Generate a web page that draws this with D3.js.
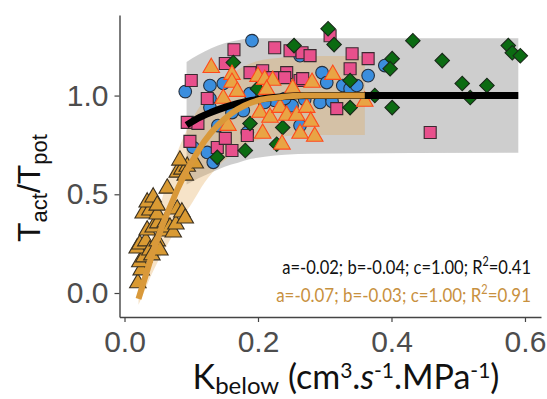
<!DOCTYPE html>
<html><head><meta charset="utf-8">
<script src="https://cdn.jsdelivr.net/npm/d3@7"></script>
<style>body{margin:0;background:#fff}</style>
</head><body>
<svg id="c" width="547" height="399"></svg>
<script>
// ---------- data ----------
const xTicks = [0, 0.2, 0.4, 0.6];
const yTicks = [0, 0.5, 1.0];

// blue circles
const circleK = [0.191,0.091,0.128,0.128,0.148,0.188,0.128,0.103,0.124,0.133,0.184,0.178,0.263,0.296,0.303,0.327,0.338,0.348,0.365,0.390,0.251,0.263,0.293,0.311,0.225,0.240,0.270,0.210,0.161,0.140];
const circleY = [1.278,1.020,1.051,0.985,1.061,1.010,0.939,0.737,0.712,0.662,0.813,0.924,1.202,1.116,1.066,1.051,1.035,1.051,1.101,1.152,0.949,0.848,0.965,0.970,0.975,0.985,0.980,0.965,0.914,0.848];

// pink squares
const squareK = [0.164,0.225,0.248,0.266,0.278,0.308,0.341,0.365,0.338,0.151,0.100,0.207,0.222,0.243,0.240,0.263,0.267,0.094,0.110,0.098,0.139,0.161,0.151,0.318,0.458,0.124,0.184,0.188];
const squareY = [1.232,1.242,1.227,1.217,1.202,1.303,1.212,1.187,1.136,1.162,1.076,1.126,1.091,1.116,1.091,1.076,1.086,0.864,0.859,0.768,0.737,0.722,0.783,0.934,0.813,0.985,0.798,1.116];

// green diamonds
const diamondK = [0.305,0.314,0.432,0.401,0.398,0.476,0.506,0.543,0.518,0.575,0.581,0.593,0.338,0.375,0.401,0.338,0.163,0.199,0.237,0.181,0.228,0.254,0.188,0.139];
const diamondY = [1.338,1.258,1.278,1.187,1.136,1.177,1.061,1.051,0.990,1.253,1.217,1.202,1.076,1.000,0.939,0.939,1.167,1.035,0.838,0.722,0.753,1.253,0.859,0.687];

// orange triangles, red outline (high K group)
const triHiK = [0.130,0.161,0.161,0.169,0.148,0.200,0.210,0.222,0.213,0.252,0.281,0.312,0.155,0.203,0.218,0.233,0.243,0.258,0.273,0.279,0.207,0.236,0.263,0.285,0.360];
const triHiY = [1.141,1.106,1.066,1.020,0.985,1.096,1.081,1.076,1.030,1.035,1.066,1.106,0.848,0.914,0.889,0.939,0.899,0.899,0.939,0.869,0.808,0.753,0.808,0.793,0.970];

// orange triangles, dark outline (low K group)
const triLoK = [0.020,0.025,0.023,0.029,0.019,0.023,0.032,0.038,0.041,0.049,0.053,0.034,0.043,0.050,0.058,0.061,0.068,0.073,0.077,0.028,0.038,0.049,0.034,0.043,0.049,0.079,0.086,0.091,0.064,0.079,0.086,0.094,0.091,0.106,0.083];
const triLoY = [0.051,0.116,0.157,0.182,0.227,0.247,0.263,0.217,0.192,0.263,0.217,0.318,0.333,0.354,0.313,0.359,0.333,0.308,0.348,0.404,0.419,0.399,0.460,0.485,0.444,0.424,0.409,0.379,0.530,0.611,0.626,0.641,0.596,0.657,0.672];

// fitted curve, all data (black) and its band
const fitAllK  = [0.093,0.11,0.13,0.15,0.17,0.19,0.21,0.24,0.28,0.59];
const fitAllY  = [0.85,0.885,0.915,0.94,0.96,0.975,0.985,0.995,1.0,1.0];
const bandAllLo = [0.55,0.58,0.61,0.64,0.66,0.68,0.69,0.70,0.705,0.71];
const bandAllHi = [1.17,1.205,1.24,1.265,1.28,1.29,1.29,1.29,1.29,1.29];

// fitted curve, triangles (orange) and its band
const fitTriK  = [0.021,0.03,0.04,0.05,0.06,0.07,0.08,0.09,0.10,0.12,0.14,0.16,0.18,0.20,0.23,0.27,0.36];
const fitTriY  = [-0.03,0.07,0.18,0.28,0.37,0.45,0.53,0.60,0.66,0.77,0.85,0.91,0.95,0.975,0.99,1.0,1.0];
const bandTriLo = [-0.06,0.01,0.09,0.16,0.22,0.28,0.34,0.40,0.45,0.56,0.64,0.70,0.75,0.775,0.79,0.80,0.80];
const bandTriHi = [0.00,0.13,0.27,0.40,0.52,0.62,0.72,0.80,0.87,0.98,1.06,1.11,1.15,1.175,1.19,1.20,1.20];

const annotAll = ["a=-0.02; b=-0.04; c=1.00; R", "=0.41"];
const annotTri = ["a=-0.07; b=-0.03; c=1.00; R", "=0.91"];

// ---------- drawing ----------
const svg = d3.select("#c");
const x = d3.scaleLinear().domain([-0.0075, 0.624]).range([119.5, 541]);
const y = d3.scaleLinear().domain([-0.1215, 1.408]).range([317, 15]);

function band(K, lo, hi){ return K.map((k,i)=>({k, lo:lo[i], hi:hi[i]})); }
const area = d3.area().x(d=>x(d.k)).y0(d=>y(d.lo)).y1(d=>y(d.hi)).curve(d3.curveMonotoneX);
const line = d3.line().x(d=>x(d.k)).y(d=>y(d.v)).curve(d3.curveMonotoneX);

svg.append("path").datum(band(fitAllK,bandAllLo,bandAllHi)).attr("d",area)
  .attr("fill","#a6a6a6").attr("fill-opacity",0.55);
svg.append("path").datum(band(fitTriK,bandTriLo,bandTriHi)).attr("d",area)
  .attr("fill","#e0a24a").attr("fill-opacity",0.3);

function pts(K,Y){ return K.map((k,i)=>({k, v:Y[i]})); }
const g = svg.append("g");
function drawSym(data, type, size, fill, stroke, rot){
  g.selectAll(null).data(data).enter().append("path")
    .attr("d", d3.symbol().type(type).size(size)())
    .attr("transform", d=>`translate(${x(d.k)},${y(d.v)})` + (rot?` rotate(${rot})`:""))
    .attr("fill", fill).attr("stroke", stroke).attr("stroke-width", 1.1);
}
drawSym(pts(circleK,circleY), d3.symbolCircle, 125, "#3b8ede", "#243040");
drawSym(pts(squareK,squareY), d3.symbolSquare, 144, "#e8508c", "#3a2a30");
drawSym(pts(diamondK,diamondY), d3.symbolSquare, 105, "#0b6b12", "#1a2a1a", 45);
drawSym(pts(triLoK,triLoY), d3.symbolTriangle, 118, "#d99a33", "#3a3020");
drawSym(pts(triHiK,triHiY), d3.symbolTriangle, 118, "#e9a444", "#ff4a1c");

svg.append("path").datum(pts(fitAllK,fitAllY)).attr("d",line)
  .attr("fill","none").attr("stroke","#000").attr("stroke-width",7);
svg.append("path").datum(pts(fitTriK,fitTriY)).attr("d",line)
  .attr("fill","none").attr("stroke","#d9993a").attr("stroke-width",6);

// axes
const xa = svg.append("g").attr("transform","translate(0,317)")
  .call(d3.axisBottom(x).tickValues(xTicks).tickFormat(d3.format(".1f")).tickSize(5).tickSizeOuter(0).tickPadding(9));
const ya = svg.append("g").attr("transform","translate(119.5,0)")
  .call(d3.axisLeft(y).tickValues(yTicks).tickFormat(d3.format(".1f")).tickSize(5).tickSizeOuter(0).tickPadding(6));
[xa,ya].forEach(a=>{
  a.select(".domain").attr("stroke","#444").attr("stroke-width",1.4);
  a.selectAll(".tick line").attr("stroke","#444").attr("stroke-width",1.2);
  a.selectAll(".tick text").attr("fill","#4d4d4d").attr("font-family","Liberation Sans, Arial, sans-serif").attr("font-size",30);
});

// y label
const yl = svg.append("text").attr("transform","translate(40,188) rotate(-90)")
  .attr("text-anchor","middle").attr("font-family","Liberation Sans, Arial, sans-serif")
  .attr("font-size",32).attr("fill","#111");
yl.append("tspan").text("T");
yl.append("tspan").attr("font-size",22).attr("dy",7).text("act");
yl.append("tspan").attr("dy",-7).text("/T");
yl.append("tspan").attr("font-size",22).attr("dy",7).text("pot");

// x label
const xl = svg.append("text").attr("x",346).attr("y",389).attr("text-anchor","middle")
  .attr("font-family","Lato, Open Sans, sans-serif").attr("font-size",34).attr("fill","#111");
xl.append("tspan").text("K");
xl.append("tspan").attr("font-size",24).attr("dy",5).text("below");
xl.append("tspan").attr("dy",-5).text(" (cm");
xl.append("tspan").attr("font-size",21).attr("dy",-11).text("3");
xl.append("tspan").attr("dy",11).text(".");
xl.append("tspan").attr("font-style","italic").text("s");
xl.append("tspan").attr("font-size",21).attr("dy",-11).text("-1");
xl.append("tspan").attr("dy",11).text(".MPa");
xl.append("tspan").attr("font-size",21).attr("dy",-11).text("-1");
xl.append("tspan").attr("dy",11).text(")");

// annotations (horizontally condensed to match the narrow original face)
function annot(parts, yy, col, w){
  const grp = svg.append("g");
  const t = grp.append("text").attr("x",0).attr("y",0).attr("text-anchor","end")
    .attr("font-family","Lato, Open Sans, sans-serif").attr("font-size",20).attr("fill",col);
  t.append("tspan").text(parts[0]);
  t.append("tspan").attr("font-size",13).attr("dy",-8).text("2");
  t.append("tspan").attr("dy",8).text(parts[1]);
  const bw = t.node().getBBox().width;
  grp.attr("transform",`translate(531,${yy}) scale(${w/bw},1)`);
}
annot(annotAll, 274, "#111", 249);
annot(annotTri, 302, "#c8913f", 255);
</script>
</body></html>
